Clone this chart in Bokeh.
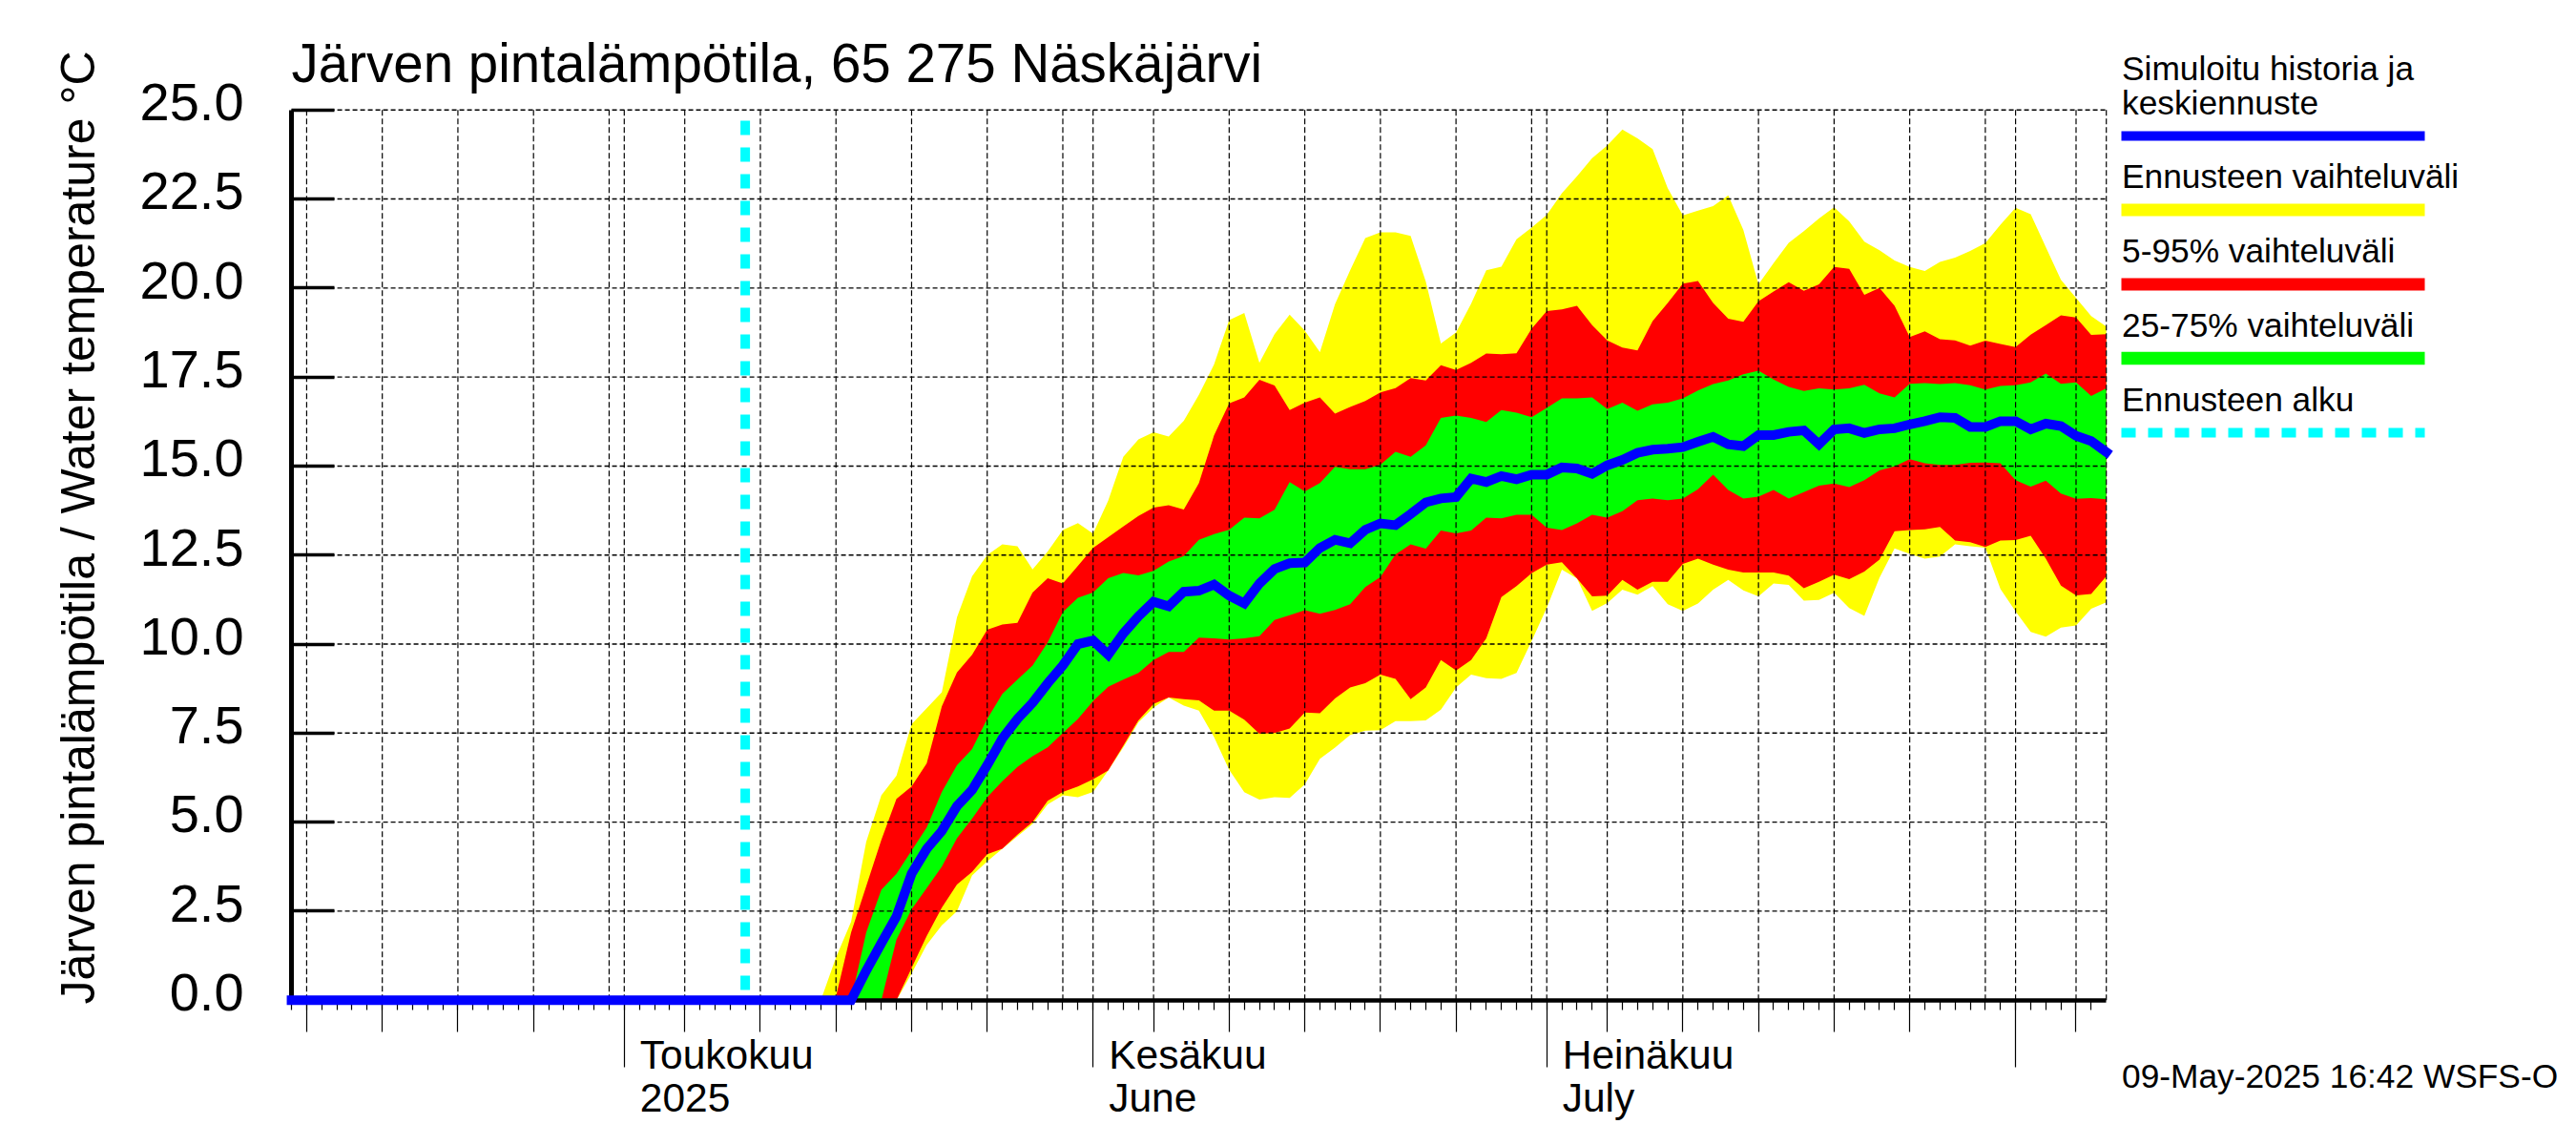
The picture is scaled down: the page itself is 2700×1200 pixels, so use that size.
from bokeh.embed import file_html
from bokeh.resources import INLINE
from bokeh.plotting import figure
from bokeh.models import LinearAxis, FixedTicker, Label, Range1d

# ---- data: x is days since 1 May 2025 ----
start_day = 13
yellow_top = [0, 1.2, 2.2, 4.45, 5.75, 6.3, 7.75, 8.2, 8.65, 10.75, 11.9, 12.5, 12.8, 12.75, 12.1, 12.6, 13.2, 13.4, 13.1,
              14.03, 15.26, 15.75, 15.95, 15.83, 16.27, 17.0, 17.85, 19.1, 19.3, 17.9, 18.7, 19.25, 18.8, 18.2, 19.55, 20.5,
              21.4, 21.56, 21.56, 21.46, 20.18, 18.44, 18.75, 19.56, 20.5, 20.6, 21.37, 21.7, 22.05, 22.66, 23.14, 23.65,
              24.0, 24.45, 24.2, 23.9, 22.8, 22.04, 22.17, 22.3, 22.6, 21.63, 20.1, 20.7, 21.27, 21.6, 21.95, 22.27, 21.87,
              21.3, 21.06, 20.77, 20.59, 20.48, 20.73, 20.85, 21.04, 21.26, 21.78, 22.25, 22.07, 21.15, 20.23, 19.72, 19.21, 18.92]
red_top = [0, 0.1, 1.9, 3.2, 4.5, 5.65, 6.0, 6.65, 8.25, 9.2, 9.7, 10.4, 10.55, 10.6, 11.45, 11.85, 11.7, 12.2, 12.7,
           13.0, 13.3, 13.6, 13.83, 13.9, 13.78, 14.52, 15.86, 16.76, 16.93, 17.42, 17.26, 16.57, 16.78, 16.93, 16.47, 16.66,
           16.83, 17.07, 17.19, 17.47, 17.4, 17.83, 17.7, 17.9, 18.16, 18.14, 18.17, 18.86, 19.35, 19.4, 19.5, 18.96,
           18.53, 18.33, 18.25, 19.07, 19.58, 20.12, 20.2, 19.58, 19.14, 19.05, 19.63, 19.9, 20.16, 19.92, 20.1, 20.59, 20.54,
           19.81, 20.0, 19.5, 18.62, 18.78, 18.56, 18.53, 18.38, 18.52, 18.43, 18.34, 18.69, 18.96, 19.23, 19.17, 18.68, 18.7]
green_top = [0, 0, 0, 1.9, 3.1, 3.55, 4.2, 4.85, 5.85, 6.6, 7.05, 7.9, 8.6, 9.0, 9.4, 10.05, 10.9, 11.3, 11.45,
             11.85, 12.0, 11.93, 12.06, 12.32, 12.47, 12.93, 13.09, 13.21, 13.55, 13.53, 13.77, 14.55, 14.29, 14.52, 14.98, 14.91,
             14.91, 15.04, 15.4, 15.26, 15.58, 16.35, 16.42, 16.35, 16.24, 16.57, 16.5, 16.37, 16.63, 16.9, 16.9, 16.93,
             16.6, 16.78, 16.55, 16.73, 16.78, 16.9, 17.12, 17.3, 17.4, 17.58, 17.68, 17.43, 17.22, 17.11, 17.18, 17.15, 17.18,
             17.28, 17.04, 16.93, 17.31, 17.33, 17.3, 17.33, 17.27, 17.15, 17.25, 17.27, 17.35, 17.6, 17.31, 17.35, 16.97, 17.18]
green_bottom = [0, 0, 0, 0, 0, 1.7, 2.55, 3.15, 3.75, 4.55, 5.1, 5.7, 6.15, 6.55, 6.85, 7.1, 7.5, 7.9, 8.4,
                8.8, 9.0, 9.19, 9.55, 9.78, 9.78, 10.18, 10.16, 10.13, 10.16, 10.22, 10.68, 10.81, 10.95, 10.85, 10.96, 11.12,
                11.6, 11.88, 12.52, 12.8, 12.68, 13.19, 13.11, 13.19, 13.55, 13.53, 13.63, 13.63, 13.27, 13.2, 13.39, 13.63,
                13.55, 13.73, 14.04, 14.09, 14.04, 14.09, 14.35, 14.76, 14.33, 14.09, 14.14, 14.33, 14.09, 14.27, 14.45, 14.51, 14.41,
                14.6, 14.88, 14.99, 15.19, 15.08, 15.03, 15.03, 15.09, 15.1, 15.08, 14.6, 14.42, 14.59, 14.23, 14.08, 14.1, 14.07]
red_bottom = [0, 0, 0, 0, 0, 0, 0.9, 1.8, 2.6, 3.25, 3.6, 4.1, 4.25, 4.65, 5.0, 5.6, 5.85, 6.0, 6.2,
              6.45, 7.15, 7.86, 8.32, 8.5, 8.45, 8.42, 8.13, 8.13, 7.88, 7.48, 7.5, 7.63, 8.08, 8.06, 8.47, 8.78,
              8.9, 9.14, 9.02, 8.45, 8.78, 9.55, 9.26, 9.55, 10.16, 11.32, 11.63, 11.99, 12.23, 12.3, 11.84, 11.34,
              11.36, 11.8, 11.53, 11.75, 11.75, 12.25, 12.4, 12.23, 12.09, 12.01, 12.01, 12.01, 11.92, 11.57, 11.75, 11.95, 11.82,
              12.04, 12.37, 13.17, 13.2, 13.22, 13.29, 12.91, 12.86, 12.73, 12.91, 12.92, 13.04, 12.4, 11.64, 11.37, 11.41, 11.9]
yellow_bottom = [0, 0, 0, 0, 0, 0, 0.75, 1.55, 2.1, 2.5, 3.5, 3.9, 4.25, 4.6, 4.95, 5.5, 5.75, 5.7, 5.85,
                 6.45, 7.1, 7.8, 8.22, 8.5, 8.27, 8.13, 7.39, 6.47, 5.84, 5.63, 5.7, 5.68, 6.06, 6.78, 7.09, 7.45,
                 7.57, 7.58, 7.84, 7.84, 7.86, 8.16, 8.78, 9.14, 9.04, 9.02, 9.19, 10.09, 11.02, 12.09, 11.84, 10.93,
                 11.15, 11.53, 11.39, 11.63, 11.12, 10.93, 11.14, 11.53, 11.8, 11.51, 11.34, 11.7, 11.66, 11.22, 11.24, 11.44, 11.01,
                 10.79, 11.86, 12.69, 12.53, 12.4, 12.46, 12.8, 12.75, 12.71, 11.55, 10.92, 10.34, 10.21, 10.46, 10.52, 10.99, 11.17]
mean_start_day = -22
mean_flat = [0] * 38
mean_rise = [0.83, 1.6, 2.35, 3.55, 4.25, 4.75, 5.45, 5.9, 6.6, 7.35, 7.9, 8.35, 8.9, 9.4, 10.0, 10.1, 9.7, 10.3,
             10.78, 11.19, 11.06, 11.47, 11.5, 11.67, 11.36, 11.14, 11.7, 12.11, 12.27, 12.29, 12.7, 12.93, 12.83, 13.21, 13.39,
             13.34, 13.65, 13.98, 14.09, 14.13, 14.65, 14.55, 14.72, 14.63, 14.76, 14.76, 14.96, 14.93, 14.78, 15.02, 15.17, 15.37,
             15.46, 15.49, 15.53, 15.68, 15.82, 15.61, 15.56, 15.87, 15.87, 15.96, 16.0, 15.61, 16.03, 16.06, 15.93, 16.03, 16.06,
             16.17, 16.26, 16.37, 16.35, 16.1, 16.1, 16.26, 16.26, 16.03, 16.19, 16.12, 15.85, 15.7, 15.39]
forecast_start_day = 8
forecast_top = 24.7

y_ticks = [0, 2.5, 5, 7.5, 10, 12.5, 15, 17.5, 20, 22.5, 25]
grid_days = [-21, -16, -11, -6, -1, 0, 4, 9, 14, 19, 24, 29, 31, 35, 40, 45, 50, 55, 60, 61, 65, 70, 75, 80, 85, 90, 92, 96, 98]
five_day_ticks = [-21, -16, -11, -6, 4, 9, 14, 19, 24, 35, 40, 45, 50, 55, 65, 70, 75, 80, 85, 96]
month_ticks = [0, 31, 61, 92]
month_labels = [(0, "Toukokuu", "2025"), (31, "Kesäkuu", "June"), (61, "Heinäkuu", "July")]
first_day, last_day = -22, 98

title_text = "Järven pintalämpötila, 65 275 Näskäjärvi"
y_title = "Järven pintalämpötila / Water temperature °C"
stamp = "09-May-2025 16:42 WSFS-O"
legend_rows = [
    (["Simuloitu historia ja", "keskiennuste"], [84, 119.5], "#0000ff", 142, 10, None),
    (["Ennusteen vaihteluväli"], [197], "#ffff00", 219.5, 13, None),
    (["5-95% vaihteluväli"], [275], "#ff0000", 297.5, 13, None),
    (["25-75% vaihteluväli"], [353], "#00ff00", 375, 13.5, None),
    (["Ennusteen alku"], [430.5], "#00ffff", 453, 10, [15, 13]),
]
FONT = "Liberation Sans"
BASELINE_FIX = 0.36   # share of the font size that an "alphabetic" Label sits too low in the svg output

days = [start_day + i for i in range(len(yellow_top))]
mean = mean_flat + mean_rise
mean_days = [mean_start_day + i for i in range(len(mean))]

# The frame fills the whole canvas so that axes at a fixed location and labels are not clipped by it.
W, H = 2692, 1192
PX_PER_DAY, PX_PER_DEG = 15.851, 37.318
DAY0_X, DEG0_Y = 653.8, 1047.7
def day_at(px):
    return (px - DAY0_X) / PX_PER_DAY
def deg_at(py):
    return (DEG0_Y - py) / PX_PER_DEG

p = figure(width=W, height=H, x_range=Range1d(day_at(0), day_at(W)), y_range=Range1d(deg_at(H), deg_at(0)),
           x_axis_location=None, y_axis_location=None, toolbar_location=None, output_backend="svg",
           min_border=0, outline_line_color=None, background_fill_color="white")
p.grid.visible = False

p.varea(days, yellow_bottom, yellow_top, fill_color="#ffff00", level="image")
p.varea(days, red_bottom, red_top, fill_color="#ff0000", level="image")
p.varea(days, green_bottom, green_top, fill_color="#00ff00", level="image")

v_rules = p.segment(x0=grid_days, y0=[0] * len(grid_days), x1=grid_days, y1=[25] * len(grid_days), line_color="black",
                    line_width=1.2, level="underlay")
v_rules.glyph.line_dash = [6, 3]
h_rules = p.segment(x0=[first_day] * len(y_ticks), y0=y_ticks, x1=[last_day] * len(y_ticks), y1=y_ticks,
                    line_color="black", line_width=1.4, level="underlay")
h_rules.glyph.line_dash = [5, 3]

p.line([forecast_start_day, forecast_start_day], [forecast_top, 0], line_color="#00ffff", line_width=10,
       line_dash=[15, 13], line_cap="butt")

yax = LinearAxis(fixed_location=first_day, ticker=FixedTicker(ticks=y_ticks), bounds=(0, 25),
                 axis_line_color="black", axis_line_width=5,
                 major_tick_in=45, major_tick_out=0, major_tick_line_width=3.5, major_tick_line_color="black",
                 minor_tick_in=0, minor_tick_out=0, major_label_text_color=None)
p.add_layout(yax, "left")
# the labels of the y axis stand a little above their ticks in the reference: a label-only axis, shifted up
label_shift = 0.22
label_ticks = [v + label_shift for v in y_ticks]
ylab = LinearAxis(fixed_location=first_day, ticker=FixedTicker(ticks=label_ticks), axis_line_color=None,
                  major_tick_line_color=None, minor_tick_line_color=None,
                  major_label_overrides={t: f"{v:.1f}" for t, v in zip(label_ticks, y_ticks)},
                  major_label_standoff=44, major_label_text_font=FONT, major_label_text_font_size="56px",
                  major_label_text_color="black")
p.add_layout(ylab, "left")

month_ax = LinearAxis(fixed_location=0, ticker=FixedTicker(ticks=month_ticks), bounds=(first_day, last_day),
                      axis_line_color=None, major_tick_in=0, major_tick_out=70, major_tick_line_width=1.2,
                      major_tick_line_color="black", minor_tick_line_color=None, major_label_text_color=None)
p.add_layout(month_ax, "below")
day_ax = LinearAxis(fixed_location=0, bounds=(first_day, last_day),
                    ticker=FixedTicker(ticks=five_day_ticks, minor_ticks=list(range(first_day, last_day))),
                    axis_line_color="black", axis_line_width=4.5, major_tick_in=0, major_tick_out=33,
                    major_tick_line_width=1.2, major_tick_line_color="black", minor_tick_in=0, minor_tick_out=10,
                    minor_tick_line_width=1.2, minor_tick_line_color="black", major_label_text_color=None)
p.add_layout(day_ax, "below")

p.line(mean_days, mean, line_color="#0000ff", line_width=10, line_join="miter", line_cap="square", level="annotation")

def add_text(text, x, y, size, x_off=0.0, y_off=0.0, **kw):
    vertical = kw.get("angle", 0) == 90
    fix = BASELINE_FIX * size
    p.add_layout(Label(x=x, y=y, x_offset=x_off - (fix if vertical else 0), y_offset=y_off + (0 if vertical else fix),
                       text=text, text_font=FONT, text_font_size=f"{size}px", text_baseline="alphabetic",
                       text_color="black", **kw))

for day, first, second in month_labels:
    add_text(first, day, 0, 42.5, 16.5, -73)
    add_text(second, day, 0, 42.5, 16.5, -118)
add_text(y_title, first_day, 13.27, 50, -206, 0, angle=90, angle_units="deg", text_align="center")
add_text(title_text, first_day, 25, 56.5, 0, 28)

# legend to the right of the plot area, placed in page pixels
TEXT_X, KEY_L, KEY_R = 2223.5, 2223.0, 2541.0
for labels, baselines, color, key_y, key_w, dash in legend_rows:
    for text, base in zip(labels, baselines):
        add_text(text, day_at(TEXT_X), deg_at(base), 35.3)
    p.line([day_at(KEY_L), day_at(KEY_R)], [deg_at(key_y), deg_at(key_y)], line_color=color, line_width=key_w,
           line_cap="butt", line_dash=dash if dash else "solid")
add_text(stamp, day_at(TEXT_X), deg_at(1139.5), 35.3)

open("out.html", "w").write(file_html(p, INLINE))
